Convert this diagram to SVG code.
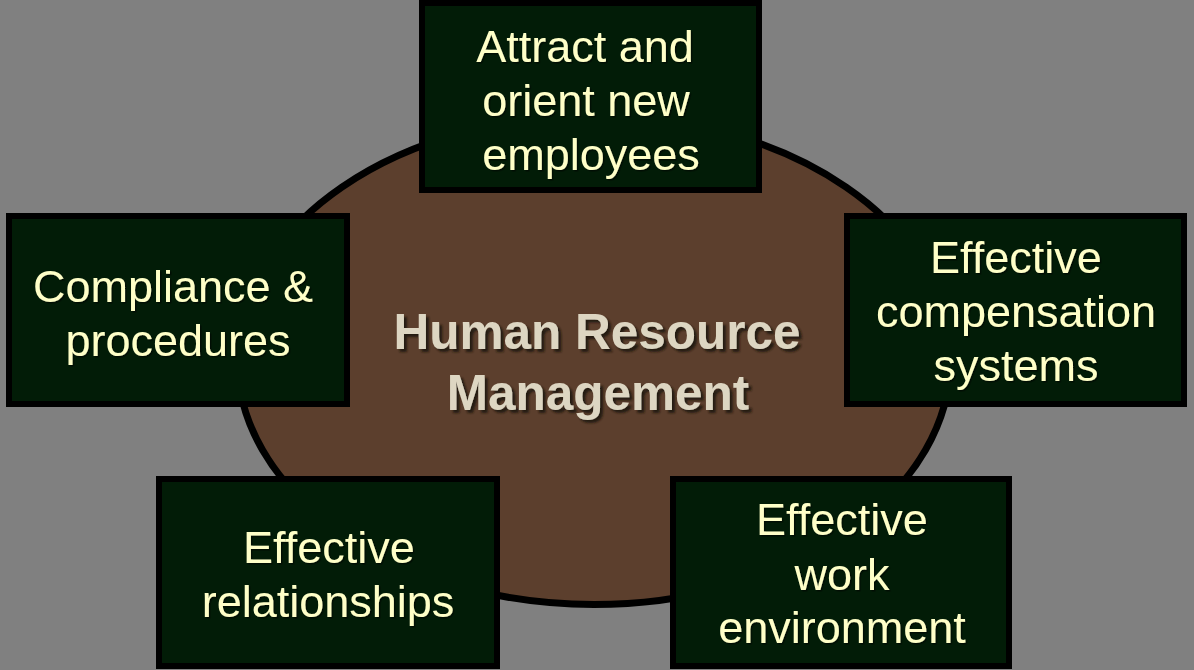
<svg xmlns="http://www.w3.org/2000/svg" width="1194" height="670" viewBox="0 0 1194 670">
  <defs>
    <style>
      .box { fill: #021c07; stroke: #000000; stroke-width: 6; }
      .lbl { font-family: "Liberation Sans", Arial, sans-serif; font-size: 45px; fill: #ffffc8; text-anchor: middle; }
      .ctr { font-family: "Liberation Sans", Arial, sans-serif; font-size: 49.5px; font-weight: bold; fill: #ddd6c2; text-anchor: middle; }
    </style>
    <filter id="shadow" x="-10%" y="-20%" width="120%" height="140%">
      <feDropShadow dx="3" dy="3" stdDeviation="0.8" flood-color="#1e140c" flood-opacity="0.9"/>
    </filter>
    <filter id="soft" x="-10%" y="-20%" width="120%" height="140%">
      <feDropShadow dx="1.5" dy="1.5" stdDeviation="0.5" flood-color="#000000" flood-opacity="0.5"/>
    </filter>
  </defs>
  <rect x="0" y="0" width="1194" height="670" fill="#808080"/>

  <g id="hrm">
    <ellipse cx="594" cy="360" rx="356.5" ry="244.5" fill="#5c3f2d" stroke="#000000" stroke-width="7"/>
    <g filter="url(#shadow)">
      <text class="ctr" x="597" y="349">Human Resource</text>
      <text class="ctr" x="598" y="410">Management</text>
    </g>
  </g>

  <g id="connectors"></g>

  <g id="attract">
    <rect class="box" x="422" y="3" width="337" height="187"/>
    <g filter="url(#soft)">
      <text class="lbl" x="585" y="62">Attract and</text>
      <text class="lbl" x="586" y="116">orient new</text>
      <text class="lbl" x="591" y="170">employees</text>
    </g>
  </g>

  <g id="compliance">
    <rect class="box" x="9" y="216" width="338" height="188"/>
    <g filter="url(#soft)">
      <text class="lbl" x="173" y="302">Compliance &amp;</text>
      <text class="lbl" x="178" y="356">procedures</text>
    </g>
  </g>

  <g id="compensation">
    <rect class="box" x="847" y="216" width="337" height="188"/>
    <g filter="url(#soft)">
      <text class="lbl" x="1016" y="273">Effective</text>
      <text class="lbl" x="1016" y="327">compensation</text>
      <text class="lbl" x="1016" y="381">systems</text>
    </g>
  </g>

  <g id="relationships">
    <rect class="box" x="159" y="479" width="338" height="187"/>
    <g filter="url(#soft)">
      <text class="lbl" x="329" y="563">Effective</text>
      <text class="lbl" x="328" y="617">relationships</text>
    </g>
  </g>

  <g id="environment">
    <rect class="box" x="673" y="479" width="336" height="187"/>
    <g filter="url(#soft)">
      <text class="lbl" x="842" y="535">Effective</text>
      <text class="lbl" x="842" y="590">work</text>
      <text class="lbl" x="842" y="643">environment</text>
    </g>
  </g>
</svg>
